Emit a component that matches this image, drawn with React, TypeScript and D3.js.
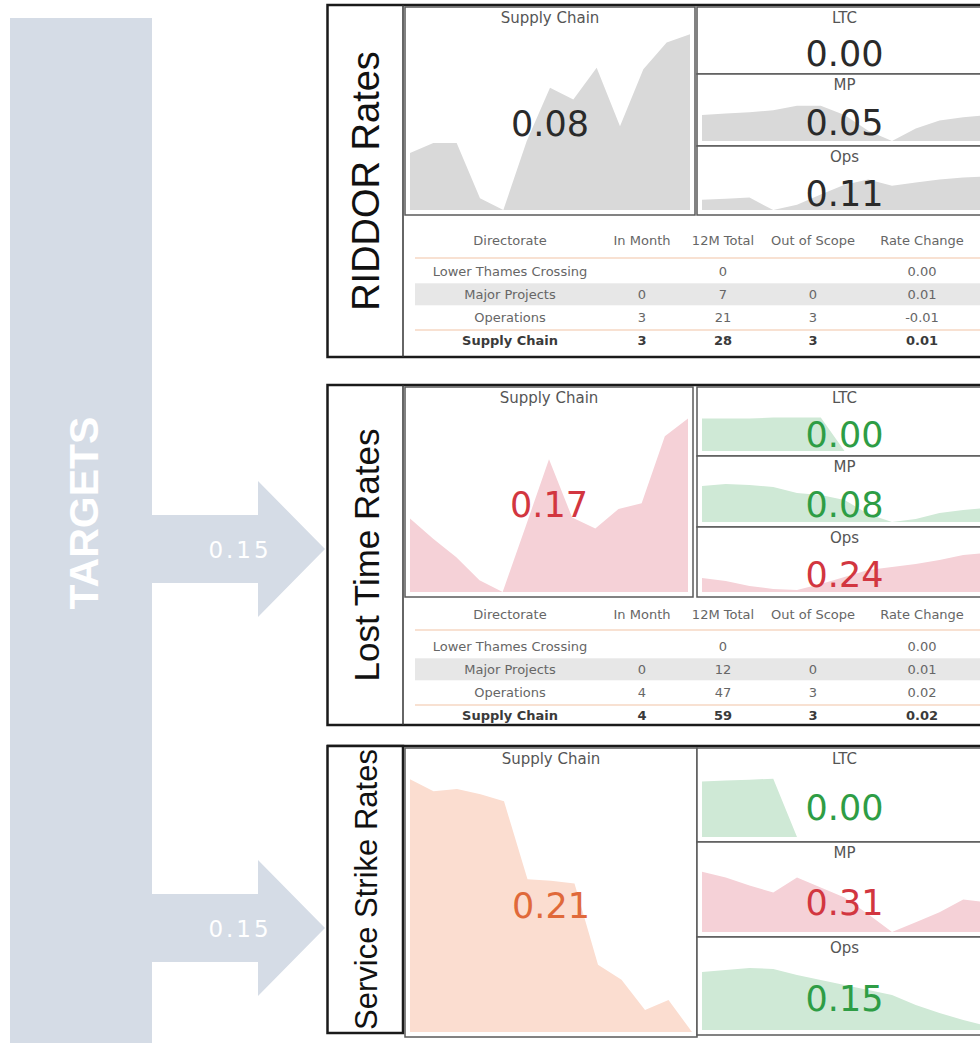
import * as d3 from 'd3';

const SANS = '"DejaVu Sans", Verdana, sans-serif';
const ARIAL = '"Liberation Sans", Arial, sans-serif';

// ---- data ----
const panelNames = ['RIDDOR Rates', 'Lost Time Rates', 'Service Strike Rates'];
const tileNames = ['Supply Chain', 'LTC', 'MP', 'Ops'];

const riddorValues = ['0.08', '0.00', '0.05', '0.11'];
const lostTimeValues = ['0.17', '0.00', '0.08', '0.24'];
const strikeValues = ['0.21', '0.00', '0.31', '0.15'];

const riddorStatus = ['neutral', 'neutral', 'neutral', 'neutral'];
const lostTimeStatus = ['red', 'green', 'green', 'red'];
const strikeStatus = ['orange', 'green', 'red', 'green'];

// 13 month trend per directorate
const riddorSupplyChain = [0.034, 0.04, 0.04, 0.007, 0, 0.041, 0.073, 0.066, 0.085, 0.05, 0.084, 0.1, 0.105];
const riddorLTC = [0, 0, 0, 0, 0, 0, 0, 0, 0, 0, 0, 0, 0];
const riddorMP = [0.048, 0.051, 0.053, 0.057, 0.065, 0.065, 0.048, 0.019, 0, 0.023, 0.038, 0.044, 0.048];
const riddorOps = [0.02, 0.022, 0.024, 0, 0.01, 0.03, 0.049, 0.059, 0.047, 0.053, 0.059, 0.063, 0.065];

const lostTimeSupplyChain = [0.087, 0.063, 0.041, 0.014, 0, 0.078, 0.157, 0.088, 0.075, 0.098, 0.105, 0.184, 0.205];
const lostTimeLTC = [0.157, 0.157, 0.157, 0.162, 0.162, 0.162, 0, 0, 0, 0, 0, 0, 0];
const lostTimeMP = [0.169, 0.178, 0.173, 0.164, 0.136, 0.127, 0.103, 0.038, 0, 0.014, 0.042, 0.056, 0.066];
const lostTimeOps = [0.089, 0.07, 0.038, 0.019, 0.013, 0.051, 0.095, 0.14, 0.159, 0.178, 0.203, 0.235, 0.248];

const strikeSupplyChain = [0.538, 0.512, 0.517, 0.506, 0.491, 0.325, 0.322, 0.316, 0.143, 0.111, 0.047, 0.068, 0];
const strikeLTC = [0.382, 0.389, 0.395, 0.402, 0, 0, 0, 0, 0, 0, 0, 0, 0];
const strikeMP = [0.411, 0.371, 0.317, 0.27, 0.371, 0.303, 0.236, 0.121, 0, 0.067, 0.135, 0.222, 0.202];
const strikeOps = [0.382, 0.396, 0.409, 0.402, 0.363, 0.33, 0.297, 0.264, 0.231, 0.165, 0.112, 0.066, 0.026];

const riddorMax = [0.12, 0.12, 0.12, 0.12];
const lostTimeMax = [0.24, 0.3, 0.3, 0.4];
const strikeMax = [0.6, 0.6, 0.6, 0.6];

const tableHeaders = ['Directorate', 'In Month', '12M Total', 'Out of Scope', 'Rate Change'];
const riddorRows = [
  ['Lower Thames Crossing', '', '0', '', '0.00'],
  ['Major Projects', '0', '7', '0', '0.01'],
  ['Operations', '3', '21', '3', '-0.01'],
  ['Supply Chain', '3', '28', '3', '0.01'],
];
const lostTimeRows = [
  ['Lower Thames Crossing', '', '0', '', '0.00'],
  ['Major Projects', '0', '12', '0', '0.01'],
  ['Operations', '4', '47', '3', '0.02'],
  ['Supply Chain', '4', '59', '3', '0.02'],
];

const targetValues = ['0.15', '0.15'];

// ---- styling / layout ----
const palette: Record<string, { fill: string; text: string }> = {
  neutral: { fill: '#d9d9d9', text: '#2a2a2a' },
  red: { fill: '#f5d1d7', text: '#d23640' },
  green: { fill: '#cfe9d6', text: '#2e9d45' },
  orange: { fill: '#fbddd0', text: '#e0693a' },
};
const TARGET_FILL = '#d5dce6';
const columnX = [510, 642, 723, 813, 922];

const panels = [
  {
    name: panelNames[0], values: riddorValues, status: riddorStatus, yMax: riddorMax,
    series: [riddorSupplyChain, riddorLTC, riddorMP, riddorOps], rows: riddorRows,
    top: 5, bottom: 357, main: [405, 695, 7, 215], small: [[7, 74], [74, 146], [146, 215]],
    table: { headerY: 240, firstRowY: 271, line1: 258, line2: 330 }, labelSize: 38,
  },
  {
    name: panelNames[1], values: lostTimeValues, status: lostTimeStatus, yMax: lostTimeMax,
    series: [lostTimeSupplyChain, lostTimeLTC, lostTimeMP, lostTimeOps], rows: lostTimeRows,
    top: 385, bottom: 725, main: [405, 693, 387, 597], small: [[387, 456], [456, 527], [527, 597]],
    table: { headerY: 614, firstRowY: 646, line1: 630, line2: 705 }, labelSize: 35,
  },
  {
    name: panelNames[2], values: strikeValues, status: strikeStatus, yMax: strikeMax,
    series: [strikeSupplyChain, strikeLTC, strikeMP, strikeOps], rows: null,
    top: 746, bottom: 1033, main: [405, 697, 748, 1037], small: [[748, 842], [842, 937], [937, 1035]],
    table: null, labelSize: 31,
  },
];
const SMALL_X = [697, 992];
const arrowCenters = [549, 928];

function Tile({ x0, x1, y0, y1, title, value, status, values, yMax }: any) {
  const x = d3.scaleLinear().domain([0, values.length - 1]).range([x0 + 5, x1 - 5]);
  const y = d3.scaleLinear().domain([0, yMax]).range([y1 - 5, y0 + 2]);
  const area = d3.area<number>().x((_, i) => x(i)).y0(y(0)).y1(d => y(d));
  const h = y1 - y0;
  const c = palette[status];
  return (
    <g>
      <rect x={x0} y={y0} width={x1 - x0} height={h} fill="#fff" stroke="#5a5a5a" strokeWidth={1.5} />
      <path d={area(values) || ''} fill={c.fill} />
      <text x={(x0 + x1) / 2} y={y0 + 11} textAnchor="middle" dominantBaseline="central"
        fontFamily={SANS} fontSize={15} fill="#555">{title}</text>
      <text x={(x0 + x1) / 2} y={y0 + 22 + (h - 22) / 2 + 2} textAnchor="middle" dominantBaseline="central"
        fontFamily={SANS} fontSize={35} fill={c.text}>{value}</text>
    </g>
  );
}

function Table({ rows, t }: any) {
  const step = 23.3;
  return (
    <g fontFamily={SANS} fontSize={13} textAnchor="middle">
      <rect x={415} y={t.firstRowY + step - 11} width={580} height={22} fill="#e7e7e7" />
      <line x1={415} x2={995} y1={t.line1} y2={t.line1} stroke="#f2c4a6" strokeWidth={1.2} />
      <line x1={415} x2={995} y1={t.line2} y2={t.line2} stroke="#f2c4a6" strokeWidth={1.2} />
      {tableHeaders.map((h, i) => (
        <text key={h} x={columnX[i]} y={t.headerY} dominantBaseline="central" fill="#666">{h}</text>
      ))}
      {rows.map((r: string[], ri: number) =>
        r.map((cell, ci) => (
          <text key={ri + '-' + ci} x={columnX[ci]} y={t.firstRowY + ri * step} dominantBaseline="central"
            fill={ri === rows.length - 1 ? '#3a3a3a' : '#666'} fontWeight={ri === rows.length - 1 ? 'bold' : 'normal'}>
            {cell}
          </text>
        ))
      )}
    </g>
  );
}

function Panel({ p }: any) {
  const midY = (p.top + p.bottom) / 2;
  const [mx0, mx1, my0, my1] = p.main;
  return (
    <g>
      {p.table ? (
        <>
          <rect x={327.5} y={p.top} width={700} height={p.bottom - p.top} fill="#fff" stroke="#1a1a1a" strokeWidth={2.5} />
          <line x1={403} x2={403} y1={p.top} y2={p.bottom} stroke="#333" strokeWidth={1.5} />
          <Table rows={p.rows} t={p.table} />
        </>
      ) : (
        <>
          <line x1={327} x2={995} y1={p.top} y2={p.top} stroke="#1a1a1a" strokeWidth={2.5} />
          <rect x={327.5} y={p.top} width={75.5} height={p.bottom - p.top} fill="#fff" stroke="#1a1a1a" strokeWidth={2.5} />
        </>
      )}
      <text transform={`translate(366,${midY}) rotate(-90)`} textAnchor="middle" dominantBaseline="central"
        fontFamily={ARIAL} fontSize={p.labelSize} fill="#111">{p.name}</text>
      <Tile x0={mx0} x1={mx1} y0={my0} y1={my1} title={tileNames[0]} value={p.values[0]}
        status={p.status[0]} values={p.series[0]} yMax={p.yMax[0]} />
      {p.small.map(([y0, y1]: number[], i: number) => (
        <Tile key={i} x0={SMALL_X[0]} x1={SMALL_X[1]} y0={y0} y1={y1} title={tileNames[i + 1]}
          value={p.values[i + 1]} status={p.status[i + 1]} values={p.series[i + 1]} yMax={p.yMax[i + 1]} />
      ))}
    </g>
  );
}

export default function App() {
  const arrowPath = (cy: number) => {
    const path = d3.path();
    path.moveTo(150, cy - 34);
    path.lineTo(258, cy - 34);
    path.lineTo(258, cy - 68);
    path.lineTo(325, cy);
    path.lineTo(258, cy + 68);
    path.lineTo(258, cy + 34);
    path.lineTo(150, cy + 34);
    path.closePath();
    return path.toString();
  };

  return (
    <div style={{ position: 'absolute', left: 0, top: 0 }}>
      <svg width={980} height={1043} style={{ display: 'block', background: '#fff' }}>
        {/* targets spine */}
        <rect x={10} y={18} width={142} height={1030} fill={TARGET_FILL} />
        <text transform="translate(84,513) rotate(-90)" textAnchor="middle" dominantBaseline="central"
          fontFamily='"Liberation Sans Narrow", "Liberation Sans", sans-serif' fontWeight="bold"
          fontSize={40} fill="#fff" textLength={193} lengthAdjust="spacingAndGlyphs">TARGETS</text>
        {targetValues.map((v, i) => (
          <g key={i}>
            <path d={arrowPath(arrowCenters[i])} fill={TARGET_FILL} />
            <text x={240} y={arrowCenters[i] + 1} textAnchor="middle" dominantBaseline="central"
              fontFamily={SANS} fontSize={23} letterSpacing={3} fill="#fff">{v}</text>
          </g>
        ))}
        {panels.map((p, i) => <Panel key={i} p={p} />)}
      </svg>
    </div>
  );
}
